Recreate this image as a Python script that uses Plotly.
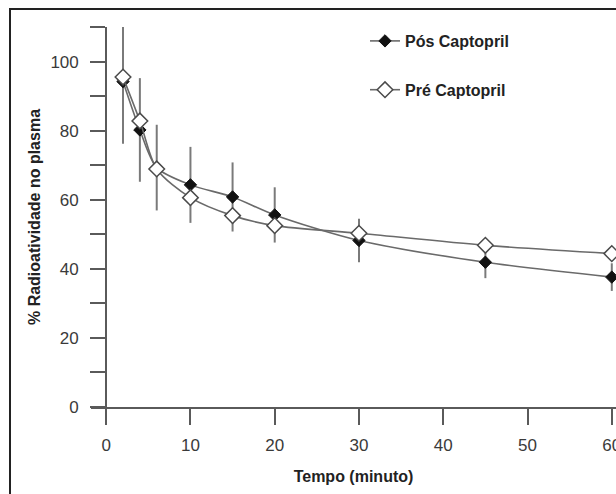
import plotly.graph_objects as go

# Data
tempo = [2, 4, 6, 10, 15, 20, 30, 45, 60]
pos_captopril = [94.2, 80.2, 69.3, 64.3, 60.8, 55.6, 48.2, 41.9, 37.6]
pos_erro = [18.0, 15.0, 12.4, 11.0, 10.0, 8.0, 6.3, 4.6, 4.0]
pre_captopril = [95.5, 82.8, 68.9, 60.6, 55.4, 52.5, 50.3, 46.8, 44.4]

x_ticks = [0, 10, 20, 30, 40, 50, 60]
y_ticks = [0, 10, 20, 30, 40, 50, 60, 70, 80, 90, 100, 110]
y_ticktext = ["0", "", "20", "", "40", "", "60", "", "80", "", "100", ""]

XMIN, XMAX = -1.8, 60.5
YMIN, YMAX = 0, 110

W, H = 616, 494
ML, MR, MT, MB = 91, 0, 27, 87
PW, PH = W - ML - MR, H - MT - MB

LINE_COL = "#6a6a6a"
AX_COL = "#5a5a5a"
TXT_COL = "#222222"

fig = go.Figure()

fig.add_trace(go.Scatter(
    x=tempo, y=pos_captopril, name="Pós Captopril",
    mode="lines+markers", legendgroup="pos",
    line=dict(color=LINE_COL, width=1.6, shape="spline", smoothing=0.8),
    marker=dict(symbol="diamond", size=9.5, color="#111111",
                line=dict(color="#111111", width=1)),
    error_y=dict(type="data", array=pos_erro, visible=True,
                 color="#7a7a7a", thickness=2, width=0),
    cliponaxis=False,
))

fig.add_trace(go.Scatter(
    x=tempo, y=pre_captopril, name="Pré Captopril",
    mode="lines+markers", legendgroup="pre",
    line=dict(color=LINE_COL, width=1.6, shape="spline", smoothing=0.8),
    marker=dict(symbol="diamond", size=12, color="white",
                line=dict(color="#4a4a4a", width=1.5)),
    cliponaxis=False,
))

ypos = (0 - XMIN) / (XMAX - XMIN)

fig.update_layout(
    width=W, height=H,
    margin=dict(l=ML, r=MR, t=MT, b=MB, autoexpand=False),
    paper_bgcolor="white", plot_bgcolor="white",
    font=dict(family="Liberation Sans, Arial, sans-serif", color=TXT_COL),
    showlegend=True,
    legend=dict(
        x=(365 - ML) / PW, y=1 + (MT - 24) / PH,
        xanchor="left", yanchor="top",
        bgcolor="rgba(0,0,0,0)",
        font=dict(size=16, family="Liberation Sans, Arial, sans-serif",
                  color=TXT_COL, weight="bold"),
        traceorder="grouped", tracegroupgap=25,
        itemwidth=30,
    ),
    xaxis=dict(
        range=[XMIN, XMAX], tickmode="array", tickvals=x_ticks,
        ticks="outside", ticklen=16, tickwidth=2, tickcolor=AX_COL,
        showline=True, linecolor=AX_COL, linewidth=2,
        showgrid=False, zeroline=False,
        tickfont=dict(size=17, color="#3a3a3a"),
        ticklabelstandoff=6, ticklabeloverflow="allow",
        title=dict(text="Tempo (minuto)", standoff=16,
                   font=dict(size=16, weight="bold", color=TXT_COL)),
    ),
    yaxis=dict(
        range=[YMIN, YMAX], anchor="free", position=ypos,
        tickmode="array", tickvals=y_ticks, ticktext=y_ticktext,
        ticks="outside", ticklen=15, tickwidth=2, tickcolor=AX_COL,
        showline=True, linecolor=AX_COL, linewidth=2,
        showgrid=False, zeroline=False,
        tickfont=dict(size=17, color="#3a3a3a"),
        ticklabelstandoff=8, ticklabeloverflow="allow",
        title=dict(text="% Radioatividade no plasma", standoff=5,
                   font=dict(size=16, weight="bold", color=TXT_COL)),
    ),
)

# outer frame (left and top edges visible)
fx = (10 - ML) / PW
fy = 1 + (MT - 9) / PH
fig.add_shape(type="path", xref="paper", yref="paper",
              path=f"M {fx} -1 L {fx} {fy} L 1.2 {fy}",
              line=dict(color="#222222", width=2))

fig.write_html(
    "out.html",
    config={"displayModeBar": False},
    post_script="document.documentElement.style.overflow='hidden';"
                "document.body.style.overflow='hidden';"
                "document.body.style.margin='0';",
)
